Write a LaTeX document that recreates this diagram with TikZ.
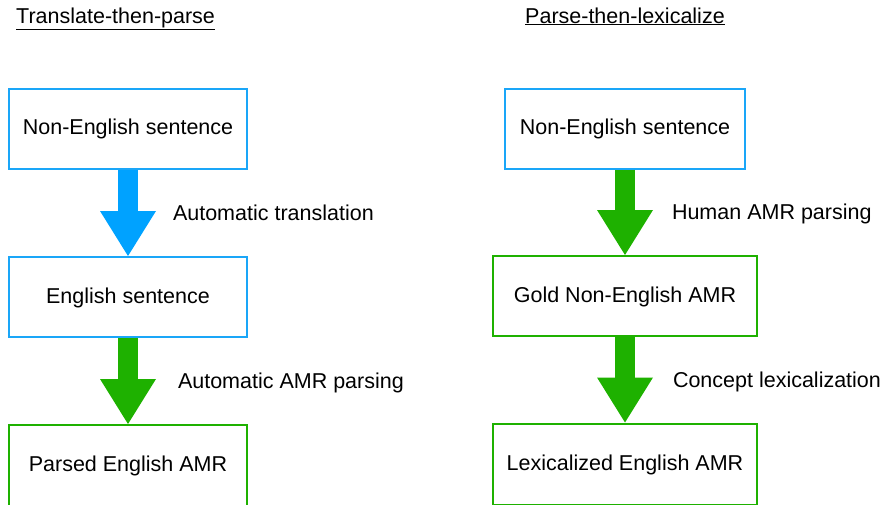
\documentclass[tikz,border=0pt]{standalone}
\usepackage{fontspec}
\setmainfont{Liberation Sans}
\usetikzlibrary{arrows.meta,positioning}
\definecolor{boxblue}{RGB}{26,166,248}
\definecolor{arrowblue}{RGB}{0,162,255}
\definecolor{stepgreen}{RGB}{30,177,0}
\begin{document}
\begin{tikzpicture}
[x=1pt, y=-1pt,
txt/.style={font=\fontsize{21.5}{25}\selectfont},
heading/.style={txt, anchor=base west, inner sep=0pt},
stage/.style={txt, draw, fill=white, line width=2pt, inner sep=0pt,
  minimum width=238pt, minimum height=80pt, text height=15pt, text depth=3pt},
flow/.style={line width=20pt, -{Triangle[length=45pt,width=56pt,line width=0pt]}},
note/.style={txt, anchor=west, xshift=#1, inner sep=0pt, outer sep=0pt,
  text height=15pt, text depth=0pt}]
\useasboundingbox (0,0) rectangle (884,504);
\clip (0,0) rectangle (884,504);
% translate then parse
\node[heading] (left) at (16,23) {\underline{Translate-then-parse}};
\node[stage, draw=boxblue] (src) at (128,128.5) {Non-English sentence};
\node[stage, draw=boxblue] (eng) at (128,297) {English sentence};
\node[stage, draw=stepgreen, minimum height=81pt] (parsed) at (128,465.5) {Parsed English AMR};
\draw[flow, arrowblue] (src) -- node[note=45pt, black] {Automatic translation} (eng);
\draw[flow, stepgreen] (eng) -- node[note=50pt, black] {Automatic AMR parsing} (parsed);
% parse then lexicalize
\node[heading] (right) at (525,23) {\underline{Parse-then-lexicalize}};
\node[stage, draw=boxblue, minimum width=240pt] (rsrc) at (625,128.5) {Non-English sentence};
\node[stage, draw=stepgreen, minimum width=264pt] (gold) at (625,296) {Gold Non-English AMR};
\node[stage, draw=stepgreen, minimum width=264pt, minimum height=81pt] (lex) at (625,464) {Lexicalized English AMR};
\draw[flow, stepgreen] (rsrc) -- node[note=47pt, black] {Human AMR parsing} (gold);
\draw[flow, stepgreen] (gold) -- node[note=48pt, black] {Concept lexicalization} (lex);
\end{tikzpicture}
\end{document}
